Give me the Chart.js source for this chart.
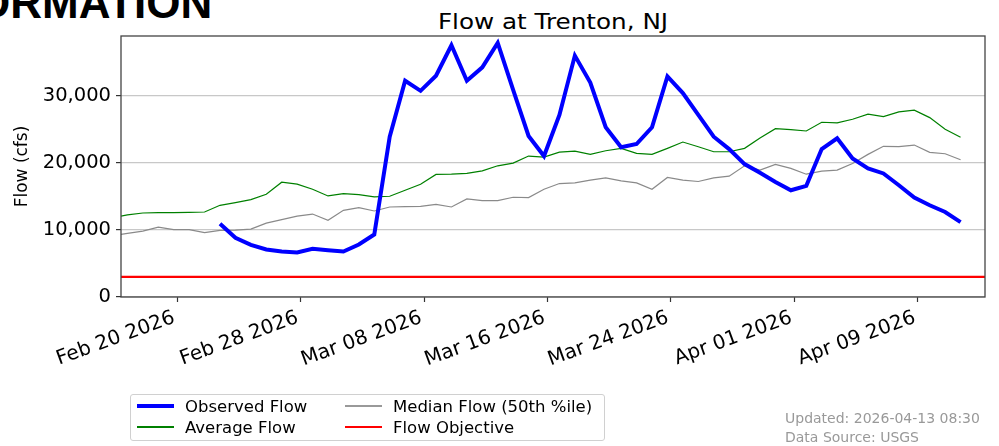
<!DOCTYPE html>
<html>
<head>
<meta charset="utf-8">
<script src="https://cdn.jsdelivr.net/npm/chart.js@4.4.1/dist/chart.umd.min.js"></script>
<style>
  html, body { margin: 0; padding: 0; background: #fff; }
  body { width: 999px; height: 446px; position: relative; overflow: hidden; font-family: 'DejaVu Sans', sans-serif; }
  #flowChart { position: absolute; left: 0; top: 0; }
  .heading { position: absolute; left: -24px; top: -19px; font: bold 44px 'Liberation Sans', Arial, sans-serif; line-height: 1; white-space: nowrap; color: #000; }
  .title { position: absolute; left: 553px; top: 11px; transform: translateX(-50%) scaleX(1.12); font-size: 22px; line-height: 1; white-space: nowrap; color: #000; }
  .legend { position: absolute; left: 130px; top: 394px; width: 473px; height: 45px; border: 1px solid #d0d0d0; border-radius: 3px; }
  .item { position: absolute; height: 20px; display: flex; align-items: center; font-size: 16.5px; white-space: nowrap; color: #000; }
  .item .swatch { width: 37px; margin-right: 11px; }
  .updated { position: absolute; left: 785px; font-size: 14px; color: #999; white-space: nowrap; line-height: 1; }
</style>
</head>
<body>
<div class="heading">ORMATION</div>
<div class="title">Flow at Trenton, NJ</div>
<canvas id="flowChart" width="999" height="446"></canvas>
<div class="legend">
  <div class="item" style="left:6px; top:1px;"><span class="swatch" style="height:4px; background:#0000ff;"></span>Observed Flow</div>
  <div class="item" style="left:6px; top:22px;"><span class="swatch" style="height:1.5px; background:#008000;"></span>Average Flow</div>
  <div class="item" style="left:214px; top:1px;"><span class="swatch" style="height:1.5px; background:#999;"></span>Median Flow (50th %ile)</div>
  <div class="item" style="left:214px; top:22px;"><span class="swatch" style="height:2.5px; background:#ff0000;"></span>Flow Objective</div>
</div>
<div class="updated" style="top:411px;">Updated: 2026-04-13 08:30</div>
<div class="updated" style="top:430px;">Data Source: USGS</div>

<script>
// Observed daily flow (cfs), first value on Feb 22
const observedStart = '2026-02-22T18:30';
const observedFlow = [
  10900, 8820, 7770, 7070, 6770, 6620, 7180, 6970, 6770, 7820,
  9310, 23860, 32190, 30690, 32940, 37470, 32190, 34180, 37820, 30840,
  23970, 20980, 27100, 35930, 31930, 25270, 22280, 22770, 25270, 32830,
  30350, 27100, 23860, 22020, 19780, 18480, 17130, 15890, 16540, 22020,
  23620, 20630, 19140, 18390, 16640, 14800, 13650, 12650, 11150
];

// Historical statistics, starting one week before the observed record
const statsStart = '2026-02-15T18:30';
const averageFlow = [
  11780, 12230, 12500, 12560, 12570, 12600, 12650,
  13650, 14050, 14500, 15290, 17090, 16790, 16040, 15040, 15400, 15250,
  14890, 15000, 15890, 16790, 18240, 18280, 18390, 18780, 19530, 19930,
  20980, 20830, 21570, 21720, 21230, 21770, 22130, 21380, 21230, 22130,
  23070, 22370, 21620, 21620, 22130, 23670, 25060, 24910, 24710, 26010,
  25910, 26460, 27210, 26850, 27550, 27810, 26700, 24970, 23770
];
const medianFlow = [
  9090, 9460, 9810, 10400, 10020, 10020, 9570,
  9910, 9960, 10110, 11000, 11510, 12050, 12350, 11410, 12900, 13310,
  12800, 13400, 13460, 13500, 13800, 13400, 14590, 14350, 14350, 14850,
  14800, 16040, 16890, 16980, 17390, 17730, 17280, 16980, 16040, 17790,
  17390, 17190, 17730, 17990, 19530, 18880, 19730, 19140, 18280, 18730,
  18880, 19880, 21230, 22430, 22370, 22620, 21530, 21320, 20420
];
const flowObjective = 3000;

// Axis range and ticks
const rangeStart = '2026-02-16T08:30';
const rangeEnd = '2026-04-13T08:30';
const xTickDates = ['2026-02-20', '2026-02-28', '2026-03-08', '2026-03-16', '2026-03-24', '2026-04-01', '2026-04-09'];
const xTickLabels = ['Feb 20 2026', 'Feb 28 2026', 'Mar 08 2026', 'Mar 16 2026', 'Mar 24 2026', 'Apr 01 2026', 'Apr 09 2026'];
const yTicks = [0, 10000, 20000, 30000];
const yMax = 38850;

const DAY = 86400000;
const ORIGIN = Date.UTC(2026, 1, 20);
function dayOf(s) {
  const iso = s.length === 10 ? s + 'T00:00' : s;
  return (Date.parse(iso + ':00Z') - ORIGIN) / DAY;
}

function series(start, values) {
  const d0 = dayOf(start);
  return values.map((v, i) => ({ x: d0 + i, y: v }));
}

const xMin = dayOf(rangeStart);
const xMax = dayOf(rangeEnd);
const xTickValues = xTickDates.map(dayOf);

// Draw the matplotlib-style frame around the plot area
const framePlugin = {
  id: 'frame',
  afterDatasetsDraw(chart) {
    const { ctx, chartArea: a } = chart;
    ctx.save();
    ctx.strokeStyle = '#444';
    ctx.lineWidth = 1.3;
    ctx.strokeRect(a.left, a.top, a.right - a.left, a.bottom - a.top);
    ctx.restore();
  }
};

Chart.defaults.font.family = "'DejaVu Sans', sans-serif";
Chart.defaults.color = '#000';

const ctx = document.getElementById('flowChart').getContext('2d');
new Chart(ctx, {
  type: 'line',
  data: {
    datasets: [
      {
        label: 'Observed Flow',
        data: series(observedStart, observedFlow),
        borderColor: '#0000ff',
        borderWidth: 4,
        order: 1,
      },
      {
        label: 'Average Flow',
        data: series(statsStart, averageFlow),
        borderColor: '#008000',
        borderWidth: 1.2,
        order: 3,
      },
      {
        label: 'Median Flow (50th %ile)',
        data: series(statsStart, medianFlow),
        borderColor: '#8a8a8a',
        borderWidth: 1.2,
        order: 4,
      },
      {
        label: 'Flow Objective',
        data: [{ x: xMin, y: flowObjective }, { x: xMax, y: flowObjective }],
        borderColor: '#ff0000',
        borderWidth: 2.2,
        order: 2,
      },
    ],
  },
  options: {
    responsive: false,
    animation: false,
    devicePixelRatio: 1,
    elements: {
      point: { radius: 0, hoverRadius: 0 },
      line: { tension: 0, fill: false, borderCapStyle: 'butt', borderJoinStyle: 'miter' },
    },
    layout: { padding: { top: 36, right: 14, left: 0, bottom: 0 } },
    plugins: {
      legend: { display: false },
      tooltip: { enabled: false },
      title: { display: false },
    },
    scales: {
      x: {
        type: 'linear',
        min: xMin,
        max: xMax,
        afterBuildTicks: scale => { scale.ticks = xTickValues.map(v => ({ value: v })); },
        afterFit: scale => { scale.height = 149; },
        border: { display: false },
        grid: { drawOnChartArea: false, drawTicks: true, tickLength: 5, tickColor: '#333', tickWidth: 1.2 },
        ticks: {
          autoSkip: false,
          minRotation: 20,
          maxRotation: 20,
          padding: 4,
          labelOffset: -3,
          font: { size: 20 },
          callback: value => xTickLabels[xTickValues.indexOf(value)],
        },
      },
      y: {
        min: 0,
        max: yMax,
        afterBuildTicks: scale => { scale.ticks = yTicks.map(v => ({ value: v })); },
        afterFit: scale => { scale.width = 121; },
        border: { display: false },
        grid: { color: '#c8c8c8', lineWidth: 1.2, drawTicks: true, tickLength: 5, tickColor: '#333', tickWidth: 1.2 },
        ticks: {
          padding: 5,
          font: { size: 19.5 },
          callback: value => value.toLocaleString('en-US'),
        },
        title: {
          display: true,
          text: 'Flow (cfs)',
          font: { size: 17 },
          padding: { top: 12, bottom: 0 },
        },
      },
    },
  },
  plugins: [framePlugin],
});
</script>
</body>
</html>
